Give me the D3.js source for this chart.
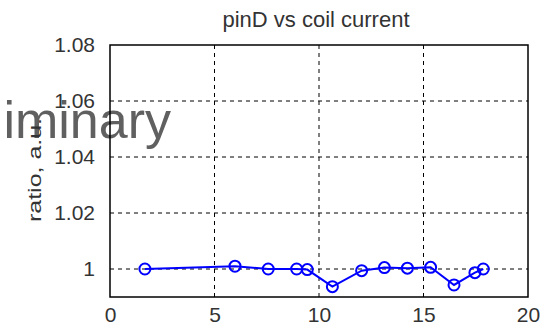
<!DOCTYPE html>
<html>
<head>
<meta charset="utf-8">
<script src="https://cdn.jsdelivr.net/npm/d3@7/dist/d3.min.js"></script>
<style>
  html, body { margin: 0; padding: 0; background: #fff; }
  svg { display: block; font-family: "Liberation Sans", Arial, sans-serif; }
</style>
</head>
<body>
<svg id="chart" width="553" height="328"></svg>
<script>
var current = [1.67, 5.98, 7.57, 8.93, 9.44, 10.64, 12.04, 13.13, 14.23, 15.34, 16.46, 17.46, 17.86];
var ratio   = [1.000, 1.0010, 1.0000, 1.0000, 0.9998, 0.9937, 0.9994, 1.0005, 1.0003, 1.0006, 0.9943, 0.9987, 1.0000];
var xTicks = [0, 5, 10, 15, 20];
var yTicks = [1, 1.02, 1.04, 1.06, 1.08];

var margin = {left: 110, right: 25, top: 45, bottom: 31};
var svg = d3.select("#chart");
var W = +svg.attr("width"), H = +svg.attr("height");

var x = d3.scaleLinear().domain([0, 20]).range([margin.left, W - margin.right]);
var y = d3.scaleLinear().domain([0.99, 1.08]).range([H - margin.bottom, margin.top]);

// grid
svg.append("g").selectAll("line.gx")
    .data(xTicks.slice(1, -1))
    .enter().append("line")
    .attr("x1", function(d){ return x(d); })
    .attr("x2", function(d){ return x(d); })
    .attr("y1", y.range()[0])
    .attr("y2", y.range()[1])
    .attr("stroke", "black")
    .attr("stroke-width", 1)
    .attr("stroke-dasharray", "4,4");

svg.append("g").selectAll("line.gy")
    .data(yTicks.slice(0, -1))
    .enter().append("line")
    .attr("x1", x.range()[0])
    .attr("x2", x.range()[1])
    .attr("y1", function(d){ return y(d); })
    .attr("y2", function(d){ return y(d); })
    .attr("stroke", "black")
    .attr("stroke-width", 1)
    .attr("stroke-dasharray", "4,4");

// watermark, cut off at the left edge like the original
svg.append("text")
    .attr("x", 171)
    .attr("y", 138)
    .attr("text-anchor", "end")
    .attr("font-size", 52)
    .attr("fill", "#606060")
    .text("Preliminary");

// frame
svg.append("rect")
    .attr("x", x.range()[0])
    .attr("y", y.range()[1])
    .attr("width", x.range()[1] - x.range()[0])
    .attr("height", y.range()[0] - y.range()[1])
    .attr("fill", "none")
    .attr("stroke", "black")
    .attr("stroke-width", 1.5);

// tick labels
var xAxis = d3.axisBottom(x).tickValues(xTicks).tickSize(0).tickPadding(10)
    .tickFormat(d3.format("d"));
var gx = svg.append("g")
    .attr("transform", "translate(0," + y.range()[0] + ")")
    .call(xAxis);
gx.select(".domain").remove();
gx.selectAll("text").attr("font-size", 21).attr("fill", "#333").attr("font-family", "Liberation Sans, Arial, sans-serif");

var yAxis = d3.axisLeft(y).tickValues(yTicks).tickSize(0).tickPadding(15)
    .tickFormat(function(d){ return d === 1 ? "1" : d3.format(".2f")(d); });
var gy = svg.append("g")
    .attr("transform", "translate(" + x.range()[0] + ",0)")
    .call(yAxis);
gy.select(".domain").remove();
gy.selectAll("text").attr("font-size", 21).attr("fill", "#333").attr("font-family", "Liberation Sans, Arial, sans-serif");

// title
svg.append("text")
    .attr("x", 316)
    .attr("y", 27)
    .attr("text-anchor", "middle")
    .attr("font-size", 22)
    .attr("fill", "#333")
    .text("pinD vs coil current");

// y label
svg.append("text")
    .attr("transform", "translate(41,170) rotate(-90)")
    .attr("text-anchor", "middle")
    .attr("font-size", 19)
    .attr("textLength", 104)
    .attr("lengthAdjust", "spacingAndGlyphs")
    .attr("fill", "#333")
    .text("ratio, a.u.");

// series
var pts = current.map(function(c, i){ return [c, ratio[i]]; });
var line = d3.line()
    .x(function(d){ return x(d[0]); })
    .y(function(d){ return y(d[1]); });

svg.append("path")
    .datum(pts)
    .attr("d", line)
    .attr("fill", "none")
    .attr("stroke", "#0000ff")
    .attr("stroke-width", 2);

svg.append("g").selectAll("circle")
    .data(pts)
    .enter().append("circle")
    .attr("cx", function(d){ return x(d[0]); })
    .attr("cy", function(d){ return y(d[1]); })
    .attr("r", 5.5)
    .attr("fill", "none")
    .attr("stroke", "#0000ff")
    .attr("stroke-width", 2);
</script>
</body>
</html>
